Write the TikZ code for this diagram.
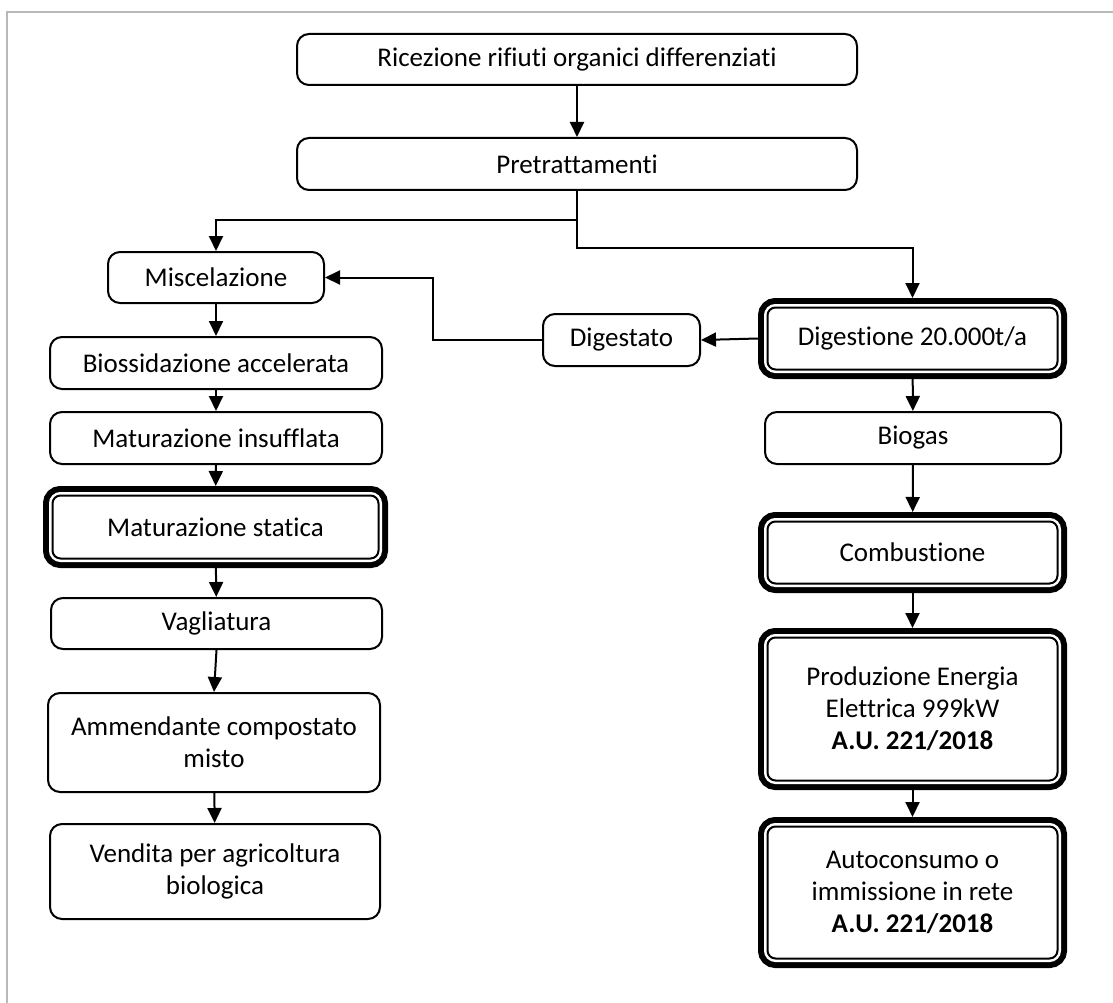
\documentclass[tikz,border=0pt]{standalone}
\usepackage{fontspec}
\setmainfont{Carlito}[Ligatures=NoCommon]
\usetikzlibrary{arrows.meta}

\begin{document}
\begin{tikzpicture}[x=1pt, y=-1pt, line width=2pt,
  font=\fontsize{27}{32}\selectfont,
  box/.style = {shape=rectangle, rounded corners=12pt,
    draw, fill=white, align=center, inner sep=2pt},
  heavy/.style = {box, rounded corners=8pt, outer sep=9.5pt,
    preaction={draw, line width=19pt},
    preaction={draw, white, line width=7pt}},
  arr/.style = {-{Triangle[width=14pt,length=15pt]}}]
  \useasboundingbox (0,0) rectangle (1113,1003);
  \draw[black!28, line width=1.6pt] (7,1003) -- (7,12) -- (1113,12);

  % central column
  \node[box, minimum width=560pt, minimum height=51pt] (ric) at (577,59.5) {Ricezione rifiuti organici differenziati};
  \node[box, minimum width=560pt, minimum height=52pt] (pre) at (577,164) {Pretrattamenti};

  % compost line
  \node[box, minimum width=216pt, minimum height=51pt] (mis) at (216,277.5) {Miscelazione};
  \node[box, minimum width=332pt, minimum height=52pt] (bio) at (216,363) {Biossidazione accelerata};
  \node[box, minimum width=332pt, minimum height=52pt] (mai) at (216,438) {Maturazione insufflata};
  \node[heavy, minimum width=326pt, minimum height=63pt] (mas) at (215.5,527) {Maturazione statica};
  \node[box, minimum width=331pt, minimum height=51pt] (vag) at (216.5,623.5) {Vagliatura};
  \node[box, minimum width=332pt, minimum height=99pt] (amm) at (214,742.5) {Ammendante compostato\\misto};
  \node[box, minimum width=330pt, minimum height=95pt] (ven) at (215,871.5) {Vendita per agricoltura\\biologica};

  % digestion line
  \node[box, minimum width=157pt, minimum height=52pt] (dig) at (621.5,340) {Digestato};
  \node[heavy, minimum width=290pt, minimum height=62pt] (dgn) at (912.5,338.5) {Digestione 20.000t/a};
  \node[box, minimum width=296pt, minimum height=52pt] (bgs) at (913,438) {Biogas};
  \node[heavy, minimum width=290pt, minimum height=62pt] (com) at (912.5,552.5) {Combustione};
  \node[heavy, minimum width=290pt, minimum height=143pt] (pro) at (912.5,709) {Produzione Energia\\Elettrica 999kW\\\textbf{A.U. 221/2018}};
  \node[heavy, minimum width=290pt, minimum height=132pt] (aut) at (912.5,892.5) {Autoconsumo o\\immissione in rete\\\textbf{A.U. 221/2018}};

  % connectors
  \draw[arr] (ric) -- (pre);
  \draw[arr] (pre.south) -- (pre.south |- 0,220) -| (mis.north);
  \draw[arr] (pre.south) -- (pre.south |- 0,248) -| (dgn.north);
  \draw[arr] (dgn.west) -- (dig.east);
  \draw[arr] (dig.west) -- ++(-109,0) |- (mis.east);
  \draw[arr] (mis) -- (bio);
  \draw[arr] (bio) -- (mai);
  \draw[arr] (mai) -- (mas);
  \draw[arr] (mas) -- (vag);
  \draw[arr] (vag.south) -- (amm.north);
  \draw[arr] (amm) -- (ven);
  \draw[arr] (dgn) -- (bgs);
  \draw[arr] (bgs) -- (com);
  \draw[arr] (com) -- (pro);
  \draw[arr] (pro) -- (aut);
\end{tikzpicture}
\end{document}
